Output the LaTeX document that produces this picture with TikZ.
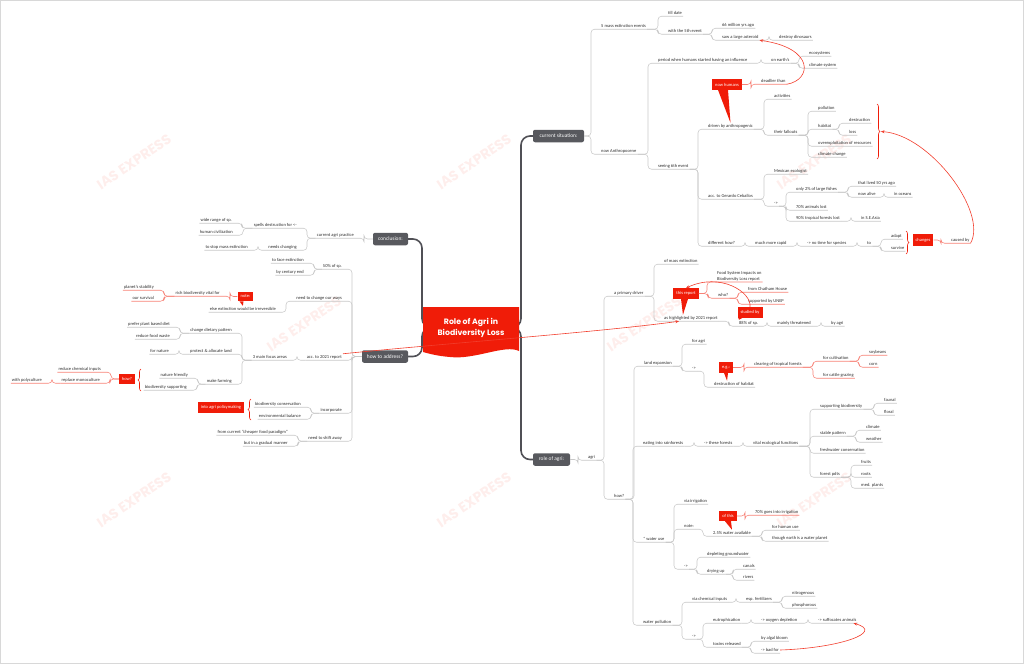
\documentclass[tikz,border=0pt]{standalone}
\usepackage{fontspec}
\setmainfont{Carlito}
\newfontfamily\titlefont{Poppins}
\usetikzlibrary{arrows.meta, decorations.pathreplacing, backgrounds}

\definecolor{mapred}{RGB}{240,28,8}
\definecolor{topicgray}{RGB}{88,89,94}
\definecolor{branchgray}{RGB}{80,80,86}
\definecolor{linegray}{RGB}{200,200,200}
\definecolor{textgray}{RGB}{45,45,45}
\definecolor{wmpink}{RGB}{254,238,236}

\begin{document}
\begin{tikzpicture}[x=1pt, y=-1pt,
  leaf/.style={font=\fontsize{4.5}{5}\selectfont, text=textgray, inner sep=1pt, text height=3.2pt, text depth=0.9pt},
  rleaf/.style={leaf, anchor=west},
  lleaf/.style={leaf, anchor=east},
  topic/.style={fill=topicgray, text=white, rounded corners=2pt, font=\fontsize{5.4}{6}\selectfont, inner sep=0pt, minimum height=12.5pt},
  callout/.style={fill=mapred, text=white, font=\fontsize{4.5}{5}\selectfont, inner sep=0pt, inner xsep=3pt, minimum height=10.5pt},
  conn/.style={draw=linegray, line width=0.55pt, rounded corners=3.5pt},
  rconn/.style={conn, draw=mapred!55},
  rel/.style={draw=mapred!85, line width=0.6pt, -{Stealth[length=3.5pt, width=3pt]}},
  branch/.style={draw=branchgray, line width=1.6pt, rounded corners=9pt},
  grp/.style={draw=mapred, line width=0.6pt, decorate, decoration={brace, amplitude=3pt}},
  wmark/.style={font=\titlefont\bfseries\fontsize{14}{14}\selectfont, text=wmpink, rotate=34}]
\useasboundingbox (0,0) rectangle (1024,664);
\draw [linegray!70, line width=0.5pt] (0.3,0.3) rectangle (1023.7,663.7);

%%%  nodes

% title
\node [font=\titlefont\bfseries\fontsize{7.8}{11}\selectfont, text=white, align=center] (ttl) at (471,327.5) {Role of Agri in\\Biodiversity Loss};

% topic nodes
\node [topic, minimum width=51pt] (cs) at (558.5,136) {current situation:};
\node [topic, minimum width=37pt] (ra) at (551.5,459.5) {role of agri:};
\node [topic, minimum width=35pt] (concl) at (390.5,239) {conclusion:};
\node [topic, minimum width=46pt] (address) at (385,356.5) {how to address?};

% current situation nodes
\node [rleaf] (mass) at (600,26) {5 mass extinction events};
\node [rleaf] (tilld) at (667,13) {till date};
\node [rleaf] (fifth) at (667,31) {with the 5th event};
\node [rleaf] (myago) at (721,25) {66 million yrs ago};
\node [rleaf] (aster) at (721,37) {saw a large asteroid};
\node [rleaf] (dino) at (778,37) {destroy dinosaurs};
\node [rleaf] (anthro) at (600,151) {now Anthropocene};
\node [rleaf] (period) at (657,60) {period when humans started having an influence};
\node [rleaf] (earth) at (770,60) {on earth's};
\node [rleaf] (ecosys) at (808,53) {ecosystems};
\node [rleaf] (climsys) at (808,65) {climate system};
\node [callout] (nowhum) at (727,84.5) {now humans};
\node [rleaf] (deadly) at (760,81) {deadlier than};
\node [rleaf] (sixth) at (657,166) {seeing 6th event};
\node [rleaf] (driven) at (707,126) {driven by anthropogenic};
\node [rleaf] (activ) at (773,96) {activities};
\node [rleaf] (fallout) at (773,132) {their fallouts};
\node [rleaf] (pollut) at (817,108) {pollution};
\node [rleaf] (habitat) at (817,126) {habitat};
\node [rleaf] (destr) at (848,120) {destruction};
\node [rleaf] (loss) at (848,132) {loss};
\node [rleaf] (overexp) at (817,143) {overexploitation of resources};
\node [rleaf] (climch) at (817,154) {climate change};
\node [rleaf] (ceball) at (707,196) {acc. to Gerardo Ceballos};
\node [rleaf] (mexic) at (773,171) {Mexican ecologist};
\node [rleaf] (arrowc) at (773,203) {->};
\node [rleaf] (fishes) at (795,189) {only 2\% of large fishes};
\node [rleaf] (lived) at (857,183) {that lived 50 yrs ago};
\node [rleaf] (alive) at (857,194) {now alive};
\node [rleaf] (oceans) at (893,194) {in oceans};
\node [rleaf] (animals) at (795,207) {70\% animals lost};
\node [rleaf] (tropic) at (795,218) {90\% tropical forests lost};
\node [rleaf] (seasia) at (860,218) {in S.E.Asia};
\node [rleaf] (diffhow) at (707,243) {different how?};
\node [rleaf] (rapid) at (754,243) {much more rapid};
\node [rleaf] (notime) at (806,243) {-> no time for species};
\node [rleaf] (to) at (866,243) {to};
\node [rleaf] (adapt) at (890,236) {adapt};
\node [rleaf] (survive) at (890,248) {survive};
\node [callout, minimum height=12pt] (changes) at (923,240) {changes};
\node [rleaf] (causedby) at (950,240) {caused by};

% role of agri nodes
\node [rleaf] (agri) at (587,457) {agri};
\node [rleaf] (primary) at (613,293) {a primary driver};
\node [rleaf] (massext) at (663,261) {of mass extinction};
\node [rleaf] (highl) at (663,318) {as highlighted by 2021 report};
\node [callout] (thisrep) at (686,293.5) {this report};
\node [font=\fontsize{4.5}{5.8}\selectfont, text=textgray, inner sep=1pt, align=left, anchor=south west] (fsi) at (716,282) {Food System Impacts on\\Biodiversity Loss report};
\node [rleaf] (who) at (717,295) {who?};
\node [rleaf] (chatham) at (747,289) {from Chatham House};
\node [rleaf] (unep) at (747,301) {supported by UNEP};
\node [callout] (studied) at (750,312.5) {studied by};
\node [rleaf] (sp88) at (738,323) {88\% of sp.};
\node [rleaf] (threat) at (776,323) {mainly threatened};
\node [rleaf] (byagri) at (830,323) {by agri};
\node [rleaf] (how) at (613,496) {how?};
\node [rleaf] (landexp) at (643,363) {land expansion};
\node [rleaf] (foragri) at (691,341) {for agri};
\node [rleaf] (arrowl) at (691,368) {->};
\node [rleaf] (desthab) at (713,384) {destruction of habitat};
\node [callout] (eg) at (726,367.5) {e.g.:};
\node [rleaf] (clearing) at (753,364) {clearing of tropical forests};
\node [rleaf] (cultiv) at (822,358) {for cultivation};
\node [rleaf] (soy) at (868,352) {soybeans};
\node [rleaf] (corn) at (868,364) {corn};
\node [rleaf] (cattle) at (822,375) {for cattle grazing};
\node [rleaf] (rainf) at (642,443) {eating into rainforests};
\node [rleaf] (these) at (703,443) {-> these forests};
\node [rleaf] (vital) at (752,443) {vital ecological functions};
\node [rleaf] (suppbio) at (819,406) {supporting biodiversity};
\node [rleaf] (faunal) at (883,400) {faunal};
\node [rleaf] (floral) at (883,412) {floral};
\node [rleaf] (stable) at (819,433) {stable pattern};
\node [rleaf] (climate) at (865,427) {climate};
\node [rleaf] (weather) at (865,439) {weather};
\node [rleaf] (fresh) at (819,450) {freshwater conservation};
\node [rleaf] (pdts) at (819,474) {forest pdts};
\node [rleaf] (fruits) at (860,462) {fruits};
\node [rleaf] (roots) at (860,474) {roots};
\node [rleaf] (med) at (860,485) {med. plants};
\node [rleaf] (water) at (642,539) {* water use};
\node [rleaf] (irrig) at (683,501) {via irrigation};
\node [rleaf] (note) at (683,526) {note:};
\node [rleaf] (avail) at (712,533) {2.5\% water available};
\node [callout, minimum height=10pt] (ofthis) at (728,516) {of this};
\node [rleaf] (seventy) at (754,512) {70\% goes into irrigation};
\node [rleaf] (human) at (771,527) {for human use};
\node [rleaf] (planet) at (771,538) {though earth is a water planet};
\node [rleaf] (arroww) at (683,566) {->};
\node [rleaf] (ground) at (706,554) {depleting groundwater};
\node [rleaf] (drying) at (706,571) {drying up};
\node [rleaf] (canals) at (742,566) {canals};
\node [rleaf] (rivers) at (742,577) {rivers};
\node [rleaf] (wpoll) at (642,622) {water pollution};
\node [rleaf] (chem) at (691,599) {via chemical inputs};
\node [rleaf] (fert) at (745,599) {esp. fertilizers};
\node [rleaf] (nitro) at (791,593) {nitrogenous};
\node [rleaf] (phos) at (791,605) {phosphorous};
\node [rleaf] (arrowp) at (691,636) {->};
\node [rleaf] (eutro) at (712,620) {eutrophication};
\node [rleaf] (oxygen) at (760,620) {-> oxygen depletion};
\node [rleaf] (suffoc) at (817,620) {-> suffocates animals};
\node [rleaf] (toxins) at (712,644) {toxins released};
\node [rleaf] (algal) at (760,638) {by algal bloom};
\node [rleaf] (badfor) at (760,650) {-> bad for};

% conclusion nodes
\node [lleaf] (practice) at (355,235) {current agri practice};
\node [lleaf] (spells) at (298,225) {spells destruction for <-};
\node [lleaf] (wide) at (233,220) {wide range of sp.};
\node [lleaf] (civil) at (234,232) {human civilization};
\node [lleaf] (needs) at (298,247) {needs changing};
\node [lleaf] (stopm) at (249,247) {to stop mass extinction};

% how to address nodes
\node [lleaf] (fifty) at (343,266) {50\% of sp.};
\node [lleaf] (face) at (305,260) {to face extinction};
\node [lleaf] (century) at (305,272) {by century end};
\node [lleaf] (ways) at (343,298) {need to change our ways};
\node [callout, minimum height=9.5pt] (note2) at (245.5,296.5) {note:};
\node [lleaf] (else) at (277,309) {else extinction would be irreversible};
\node [lleaf] (rich) at (221,293) {rich biodiversity vital for};
\node [lleaf] (stabil) at (155,287) {planet's stability};
\node [lleaf] (surviv) at (155,298) {our survival};
\node [lleaf] (acc2021) at (343,357) {acc. to 2021 report};
\node [lleaf] (focus) at (288,357) {3 main focus areas};
\node [lleaf] (dietary) at (233,330) {change dietary pattern};
\node [lleaf] (plant) at (171,324) {prefer plant based diet};
\node [lleaf] (waste) at (171,336) {reduce food waste};
\node [lleaf] (protect) at (233,351) {protect \& allocate land};
\node [lleaf] (nature) at (170,351) {for nature};
\node [lleaf] (farming) at (233,381) {make farming};
\node [lleaf] (friendly) at (189,375) {nature friendly};
\node [lleaf] (biosupp) at (188,387) {biodiversity supporting};
\node [callout, minimum height=10pt] (how2) at (127,379) {how?};
\node [lleaf] (chemin) at (102,369) {reduce chemical inputs};
\node [lleaf] (mono) at (101,380) {replace monoculture};
\node [lleaf] (poly) at (43,380) {with polyculture};
\node [lleaf] (incorp) at (343,410) {incorporate};
\node [lleaf] (biocons) at (302,404) {biodiversity conservation};
\node [lleaf] (envbal) at (302,416) {environmental balance};
\node [callout, minimum height=11pt] (policy) at (221,407.5) {into agri policymaking};
\node [lleaf] (shift) at (343,438) {need to shift away};
\node [lleaf] (cheaper) at (289,432) {from current "cheaper food paradigm"};
\node [lleaf] (gradual) at (289,443) {but in a gradual manner};

% group coordinates
\coordinate (fbtop) at (877,104);
\coordinate (fbbot) at (877,159);
\coordinate (fbtip) at (881,131.5);
\coordinate (asup) at (906,231);
\coordinate (asbot) at (906,254);
\coordinate (nfbot) at (141,391);
\coordinate (nftop) at (141,369);
\coordinate (bcbot) at (251,420);
\coordinate (bctop) at (251,399);

%%% edges

\begin{pgfonlayer}{background}
% watermark
\foreach \wx/\wy [count=\i] in {134/162, 474/162, 814/162, 304/324, 644/324, 134/500, 474/500, 814/500}
  \node [wmark] (wm\i) at (\wx,\wy) {IAS EXPRESS};

% main branches
\draw [branch] (ttl.east) -- (521,327.5) -- (521,136) -- (cs.west);
\draw [branch] (ttl.east) -- (521,327.5) -- (521,459.5) -- (ra.west);
\draw [branch] (ttl.west) -- (422,327.5) -- (422,239) -- (concl.east);
\draw [branch] (ttl.west) -- (422,327.5) -- (422,356.5) -- (address.east);

% title shape
\fill [mapred] (423,307) -- (519,307) -- (519,351) .. controls (505,344) and (475,360) .. (450,357)
  .. controls (438,356) and (430,354) .. (423,352) -- cycle;
\end{pgfonlayer}

% right side
\foreach \a/\c in {cs.east/mass, cs.east/anthro, mass.south east/tilld, mass.south east/fifth,
  fifth.south east/myago, fifth.south east/aster, aster.south east/dino,
  anthro.south east/period, anthro.south east/sixth, period.south east/earth,
  earth.south east/ecosys, earth.south east/climsys,
  sixth.south east/driven, sixth.south east/ceball, sixth.south east/diffhow,
  driven.south east/activ, driven.south east/fallout,
  fallout.south east/pollut, fallout.south east/habitat, fallout.south east/overexp, fallout.south east/climch,
  habitat.south east/destr, habitat.south east/loss,
  ceball.south east/mexic, ceball.south east/arrowc,
  arrowc.south east/fishes, arrowc.south east/animals, arrowc.south east/tropic,
  fishes.south east/lived, fishes.south east/alive, alive.south east/oceans, tropic.south east/seasia,
  diffhow.south east/rapid, rapid.south east/notime, notime.south east/to,
  to.south east/adapt, to.south east/survive,
  ra.east/agri, agri.south east/primary, agri.south east/how,
  primary.south east/massext, primary.south east/highl,
  highl.south east/sp88, sp88.south east/threat, threat.south east/byagri,
  how.south east/landexp, how.south east/rainf, how.south east/water, how.south east/wpoll,
  landexp.south east/foragri, landexp.south east/arrowl, arrowl.south east/desthab,
  rainf.south east/these, these.south east/vital,
  vital.south east/suppbio, vital.south east/stable, vital.south east/fresh, vital.south east/pdts,
  suppbio.south east/faunal, suppbio.south east/floral,
  stable.south east/climate, stable.south east/weather,
  pdts.south east/fruits, pdts.south east/roots, pdts.south east/med,
  water.south east/irrig, water.south east/note, water.south east/arroww,
  note.south east/avail, avail.south east/human, avail.south east/planet,
  arroww.south east/ground, arroww.south east/drying,
  drying.south east/canals, drying.south east/rivers,
  wpoll.south east/chem, wpoll.south east/arrowp,
  chem.south east/fert, fert.south east/nitro, fert.south east/phos,
  arrowp.south east/eutro, arrowp.south east/toxins,
  eutro.south east/oxygen, oxygen.south east/suffoc,
  toxins.south east/algal, toxins.south east/badfor}
  \draw [conn] (\a) -| ([xshift=-9pt]\c.south west) -- (\c.south east);

\foreach \a/\c in {nowhum.east/deadly, changes.east/causedby,
  thisrep.east/fsi, thisrep.east/who, who.south east/chatham, who.south east/unep,
  eg.east/clearing, clearing.south east/cultiv, clearing.south east/cattle,
  cultiv.south east/soy, cultiv.south east/corn, ofthis.east/seventy}
  \draw [rconn] (\a) -| ([xshift=-9pt]\c.south west) -- (\c.south east);

% left side
\foreach \a/\c in {concl.west/practice, practice.south west/spells, practice.south west/needs,
  spells.south west/wide, spells.south west/civil, needs.south west/stopm,
  address.west/fifty, address.west/ways, address.west/acc2021, address.west/incorp, address.west/shift,
  fifty.south west/face, fifty.south west/century, ways.south west/else,
  acc2021.south west/focus, focus.south west/dietary, focus.south west/protect, focus.south west/farming,
  dietary.south west/plant, dietary.south west/waste, protect.south west/nature,
  farming.south west/friendly, farming.south west/biosupp,
  incorp.south west/biocons, incorp.south west/envbal,
  shift.south west/cheaper, shift.south west/gradual}
  \draw [conn] (\a) -| ([xshift=9pt]\c.south east) -- (\c.south west);

\foreach \a/\c in {note2.west/rich, rich.south west/stabil, rich.south west/surviv,
  how2.west/chemin, how2.west/mono, mono.south west/poly}
  \draw [rconn] (\a) -| ([xshift=9pt]\c.south east) -- (\c.south west);

% callout pointers
\fill [mapred] ([xshift=-9pt]nowhum.south) -- ([xshift=1pt]nowhum.south) -- (driven.north) -- cycle;
\fill [mapred] ([xshift=-5pt]thisrep.south) -- ([xshift=2pt]thisrep.south) -- ([xshift=-8pt]highl.north) -- cycle;
\fill [mapred] ([xshift=1pt]studied.south west) -- ([xshift=5pt]studied.south west) -- ([xshift=1pt]sp88.north west) -- cycle;
\fill [mapred] ([xshift=-2pt]eg.south) -- ([xshift=2pt]eg.south) -- ([xshift=-7pt]desthab.north) -- cycle;
\fill [mapred] ([xshift=-3pt]ofthis.south) -- ([xshift=3pt]ofthis.south) -- (avail.north) -- cycle;
\fill [mapred] ([xshift=-6pt]note2.south) -- ([xshift=-2pt]note2.south) -- (else.north) -- cycle;

% groups
\draw [grp] (fbtop) -- (fbbot);
\draw [grp] (asup) -- (asbot);
\draw [grp] (nfbot) -- (nftop);
\draw [grp] (bcbot) -- (bctop);

% relations
\draw [rel] (deadly.south east) .. controls (812,80) and (815,48) .. (aster.south east);
\draw [rel] (causedby.south east) .. controls (988,212) and (930,135) .. (fbtip);
\draw [rel] (studied.north) .. controls (752,292) and (720,272) .. (thisrep.north);
\draw [rel] (acc2021.north east) .. controls (450,343) and (600,332) .. ([xshift=-12pt]highl.south);
\draw [rel] (badfor.east) .. controls (840,648) and (885,632) .. ([xshift=-4pt]suffoc.south east);
\end{tikzpicture}
\end{document}
